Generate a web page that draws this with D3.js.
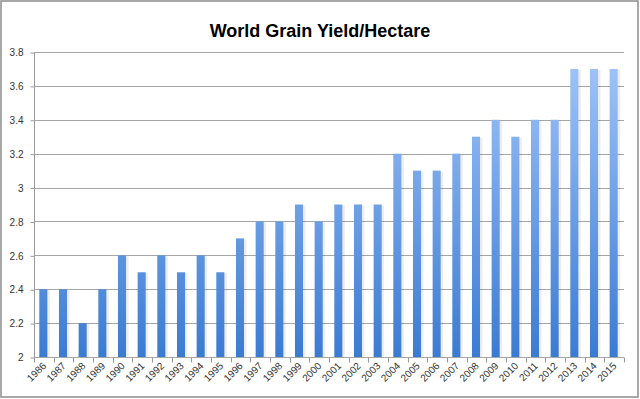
<!DOCTYPE html>
<html>
    <head>
        <meta charset="UTF-8">
        <script src="https://d3js.org/d3.v7.min.js"></script>
        <style>
            body{margin:0;background:#fff;}
            text{font-family:"Liberation Sans",Arial,sans-serif;}
        </style>
    </head>
    <body>
        <script>
            var years = ["1986","1987","1988","1989","1990","1991","1992","1993","1994","1995",
                         "1996","1997","1998","1999","2000","2001","2002","2003","2004","2005",
                         "2006","2007","2008","2009","2010","2011","2012","2013","2014","2015"];
            var yieldVals = [2.4,2.4,2.2,2.4,2.6,2.5,2.6,2.5,2.6,2.5,
                             2.7,2.8,2.8,2.9,2.8,2.9,2.9,2.9,3.2,3.1,
                             3.1,3.2,3.3,3.4,3.3,3.4,3.4,3.7,3.7,3.7];
            var yTicks = [2,2.2,2.4,2.6,2.8,3,3.2,3.4,3.6,3.8];

            var W=640,H=399;
            var pLeft=34,pRight=624,pTop=52,pBottom=357;

            var svg = d3.select("body").append("svg")
                    .attr("width",W).attr("height",H);

            svg.append("rect")
                    .attr("x",1).attr("y",1)
                    .attr("width",W-3).attr("height",H-3)
                    .attr("fill","#fff")
                    .attr("stroke","#8c8c8c")
                    .attr("stroke-width",1.5);

            var grad = svg.append("defs").append("linearGradient")
                    .attr("id","bargrad")
                    .attr("gradientUnits","userSpaceOnUse")
                    .attr("x1",0).attr("x2",0)
                    .attr("y1",pTop).attr("y2",pBottom);
            grad.append("stop").attr("offset","0%").attr("stop-color","#a3c6fa");
            grad.append("stop").attr("offset","100%").attr("stop-color","#3a7bd2");

            var x = d3.scaleBand().domain(years).range([pLeft,pRight]).paddingInner(0.59).paddingOuter(0.295);
            var xb = d3.scaleBand().domain(years).range([pLeft,pRight]);
            var y = d3.scaleLinear().domain([2,3.8]).range([pBottom,pTop]);

            // gridlines
            svg.append("g").selectAll("line").data(yTicks).enter().append("line")
                    .attr("x1",pLeft).attr("x2",pRight)
                    .attr("y1",function(d){return Math.round(y(d))+0.5;})
                    .attr("y2",function(d){return Math.round(y(d))+0.5;})
                    .attr("stroke","#a6a6a6")
                    .attr("stroke-width",1);

            // bars with soft shadow
            svg.append("g").selectAll("rect").data(yieldVals).enter().append("rect")
                    .attr("x",function(d,i){return x(years[i])+1;})
                    .attr("y",function(d){return y(d)+1;})
                    .attr("width",x.bandwidth()+1)
                    .attr("height",function(d){return pBottom-y(d)-1;})
                    .attr("fill","#000").attr("opacity",0.07);
            svg.append("g").selectAll("rect").data(yieldVals).enter().append("rect")
                    .attr("x",function(d,i){return x(years[i])-0.5;})
                    .attr("y",function(d){return y(d);})
                    .attr("width",x.bandwidth())
                    .attr("height",function(d){return pBottom-y(d);})
                    .attr("fill","url(#bargrad)");

            // y axis
            var yAxis = d3.axisLeft(y).tickValues(yTicks).tickSize(4).tickPadding(7)
                    .tickFormat(function(d){return d3.format("")(d);});
            var gy = svg.append("g").attr("transform","translate("+(pLeft+0.5)+",0.5)").call(yAxis);
            gy.select(".domain").attr("stroke","#9a9a9a").attr("d","M0,"+pTop+"V"+pBottom);
            gy.selectAll(".tick line").attr("stroke","#9a9a9a");
            gy.selectAll("text").attr("font-size",10).attr("fill","#333");

            // x axis
            var gx = svg.append("g").attr("transform","translate(0,"+(pBottom+0.5)+")");
            gx.selectAll("line").data(d3.range(years.length+1)).enter().append("line")
                    .attr("x1",function(i){return Math.round(pLeft+i*xb.step())+0.5;})
                    .attr("x2",function(i){return Math.round(pLeft+i*xb.step())+0.5;})
                    .attr("y1",0).attr("y2",5)
                    .attr("stroke","#9a9a9a");
            gx.selectAll("text").data(years).enter().append("text")
                    .text(function(d){return d;})
                    .attr("font-size",10).attr("fill","#333")
                    .attr("text-anchor","end")
                    .attr("transform",function(d){
                        return "translate("+(xb(d)+xb.bandwidth()/2+3)+",9) rotate(-45)";
                    });

            svg.append("text")
                    .text("World Grain Yield/Hectare")
                    .attr("x",320).attr("y",37)
                    .attr("text-anchor","middle")
                    .attr("font-size",18).attr("font-weight","bold")
                    .attr("fill","#000");
        </script>
    </body>
</html>
